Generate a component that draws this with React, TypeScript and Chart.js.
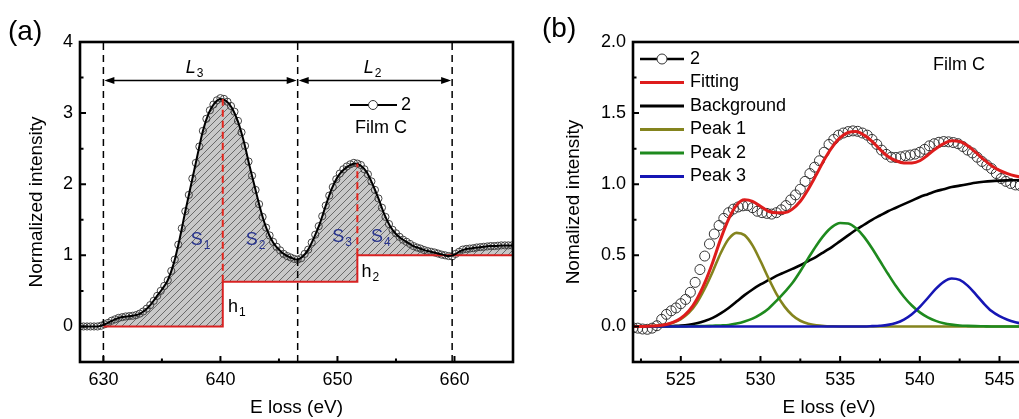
import React, { useEffect, useRef } from 'react';
import { Chart, registerables } from 'chart.js';

Chart.register(...registerables);

const FONT = '"Liberation Sans", Arial, Helvetica, sans-serif';

// ---------------- Panel (a) ----------------
const aEnergy = [
  628, 628.5, 629, 629.5, 630, 630.5, 631, 631.5, 632, 632.5, 633, 633.5, 634, 634.5, 635, 635.5,
  636, 636.5, 637, 637.5, 638, 638.5, 639, 639.5, 640, 640.5, 641, 641.5, 642, 642.5, 643, 643.5,
  644, 644.5, 645, 645.5, 646, 646.5, 647, 647.5, 648, 648.5, 649, 649.5, 650, 650.5, 651, 651.5,
  652, 652.5, 653, 653.5, 654, 654.5, 655, 655.5, 656, 656.5, 657, 657.5, 658, 658.5, 659, 659.5,
  660, 660.5, 661, 661.5, 662, 662.5, 663, 663.5, 664, 664.5, 665,
];
const aIntensity = [
  0.0, 0.0, 0.0, 0.0, 0.02, 0.06, 0.1, 0.13, 0.14, 0.15, 0.17, 0.22, 0.3, 0.41, 0.52, 0.65,
  0.88, 1.22, 1.62, 2.0, 2.38, 2.75, 3.0, 3.14, 3.2, 3.17, 3.07, 2.88, 2.6, 2.25, 1.92, 1.6,
  1.35, 1.18, 1.08, 1.01, 0.97, 0.94, 0.98, 1.08, 1.25, 1.45, 1.7, 1.93, 2.1, 2.2, 2.26, 2.29,
  2.26, 2.17, 2.0, 1.8, 1.58, 1.41, 1.3, 1.23, 1.18, 1.13, 1.1, 1.07, 1.05, 1.03, 1.01, 0.99,
  1.01, 1.06, 1.09, 1.1, 1.11, 1.12, 1.13, 1.13, 1.14, 1.14, 1.14,
];
// measured points (open circles)
const aDataEnergy = [
  628.0, 628.3, 628.6, 628.9, 629.2, 629.5, 629.8, 630.1, 630.4, 630.7, 631.0, 631.3, 631.6, 631.9,
  632.2, 632.5, 632.8, 633.1, 633.4, 633.7, 634.0, 634.3, 634.6, 634.9, 635.2, 635.5, 635.8,
  636.1, 636.4, 636.7, 637.0, 637.3, 637.6, 637.9, 638.2, 638.5, 638.8, 639.1, 639.4, 639.7,
  640.0, 640.3, 640.6, 640.9, 641.2, 641.5, 641.8, 642.1, 642.4, 642.7, 643.0, 643.3, 643.6, 643.9,
  644.2, 644.5, 644.8, 645.1, 645.4, 645.7, 646.0, 646.3, 646.6, 646.9, 647.2, 647.5, 647.8,
  648.1, 648.4, 648.7, 649.0, 649.3, 649.6, 649.9, 650.2, 650.5, 650.8, 651.1, 651.4, 651.7,
  652.0, 652.3, 652.6, 652.9, 653.2, 653.5, 653.8, 654.1, 654.4, 654.7, 655.0, 655.3, 655.6, 655.9,
  656.2, 656.5, 656.8, 657.1, 657.4, 657.7, 658.0, 658.3, 658.6, 658.9, 659.2, 659.5, 659.8,
  660.1, 660.4, 660.7, 661.0, 661.3, 661.6, 661.9, 662.2, 662.5, 662.8, 663.1, 663.4, 663.7,
  664.0, 664.3, 664.6, 664.9,
];
const aDataIntensity = [
  0.0, 0.0, 0.0, 0.0, 0.0, 0.0, 0.01, 0.03, 0.05, 0.08, 0.1, 0.12, 0.13, 0.14,
  0.145, 0.15, 0.16, 0.18, 0.21, 0.25, 0.3, 0.36, 0.43, 0.5, 0.57, 0.65, 0.78,
  0.94, 1.15, 1.38, 1.62, 1.85, 2.08, 2.3, 2.53, 2.75, 2.92, 3.04, 3.12, 3.18,
  3.21, 3.2, 3.16, 3.1, 3.02, 2.89, 2.73, 2.54, 2.32, 2.12, 1.92, 1.72, 1.54, 1.39,
  1.28, 1.19, 1.12, 1.07, 1.02, 0.99, 0.97, 0.95, 0.94, 0.96, 1.02, 1.08, 1.18,
  1.29, 1.41, 1.55, 1.7, 1.84, 1.96, 2.07, 2.15, 2.21, 2.25, 2.28, 2.3, 2.29,
  2.27, 2.21, 2.14, 2.04, 1.92, 1.8, 1.67, 1.54, 1.44, 1.36, 1.31, 1.26, 1.22, 1.19,
  1.16, 1.13, 1.11, 1.095, 1.075, 1.06, 1.05, 1.04, 1.025, 1.01, 1.0, 0.99, 0.985,
  1.02, 1.05, 1.08, 1.09, 1.095, 1.1, 1.11, 1.115, 1.12, 1.125, 1.13, 1.13, 1.135,
  1.14, 1.14, 1.14, 1.14,
];
const aStepEnergy = [630, 640.2, 640.2, 651.7, 651.7, 665];
const aStepLevel = [0, 0, 0.63, 0.63, 1.0, 1.0];
const aBoundaries = [630, 646.6, 659.8];
const aPeakEnergy = [640.2, 651.7];
const aPeakTop = [3.2, 2.29];
const aPeakBase = [0.63, 1.0];
const aXTicks = [630, 640, 650, 660];
const aXMinor = [635, 645, 655];
const aYTicks = [0, 1, 2, 3, 4];
const aYMinor = [0.5, 1.5, 2.5, 3.5];

// ---------------- Panel (b) ----------------
const bEnergy = [
  522, 522.5, 523, 523.5, 524, 524.5, 525, 525.5, 526, 526.5, 527, 527.5, 528, 528.5, 529, 529.5,
  530, 530.5, 531, 531.5, 532, 532.5, 533, 533.5, 534, 534.5, 535, 535.5, 536, 536.5, 537, 537.5,
  538, 538.5, 539, 539.5, 540, 540.5, 541, 541.5, 542, 542.5, 543, 543.5, 544, 544.5, 545, 545.5,
  546, 546.5, 547, 547.5, 548,
];
const bFitting = [
  0, 0, 0.002, 0.005, 0.012, 0.029, 0.058, 0.108, 0.19, 0.306, 0.45, 0.614, 0.755, 0.853, 0.89, 0.88,
  0.845, 0.81, 0.8, 0.8, 0.825, 0.88, 0.965, 1.066, 1.172, 1.261, 1.327, 1.364, 1.37, 1.345, 1.302, 1.245,
  1.195, 1.165, 1.15, 1.15, 1.165, 1.205, 1.25, 1.285, 1.305, 1.3, 1.27, 1.225, 1.175, 1.13, 1.097, 1.074,
  1.058, 1.047, 1.04, 1.035, 1.032,
];
const bBackground = [
  0, 0, 0, 0, 0, 0.003, 0.006, 0.012, 0.022, 0.038, 0.06, 0.092, 0.13, 0.175, 0.22, 0.26,
  0.295, 0.325, 0.355, 0.38, 0.405, 0.43, 0.46, 0.49, 0.525, 0.56, 0.6, 0.64, 0.68, 0.715, 0.75, 0.78,
  0.81, 0.835, 0.86, 0.885, 0.91, 0.93, 0.95, 0.965, 0.98, 0.99, 1.0, 1.01, 1.017, 1.022, 1.025, 1.027,
  1.028, 1.029, 1.03, 1.03, 1.03,
];
const bPeak1 = [
  0, 0, 0.002, 0.005, 0.012, 0.026, 0.052, 0.095, 0.165, 0.265, 0.385, 0.515, 0.615, 0.658, 0.642, 0.57,
  0.46, 0.34, 0.229, 0.141, 0.079, 0.04, 0.019, 0.008, 0.003, 0.001, 0, 0, 0, 0, 0, 0,
  0, 0, 0, 0, 0, 0, 0, 0, 0, 0, 0, 0, 0, 0, 0, 0,
  0, 0, 0, 0, 0,
];
const bPeak2 = [
  0, 0, 0, 0, 0, 0, 0, 0.001, 0.002, 0.003, 0.005, 0.007, 0.01, 0.02, 0.035, 0.055,
  0.085, 0.125, 0.18, 0.24, 0.305, 0.388, 0.48, 0.568, 0.644, 0.7, 0.727, 0.724, 0.69, 0.63, 0.55, 0.46,
  0.37, 0.284, 0.209, 0.147, 0.099, 0.064, 0.039, 0.023, 0.013, 0.007, 0.004, 0.002, 0.001, 0, 0, 0,
  0, 0, 0, 0, 0,
];
const bPeak3 = [
  0, 0, 0, 0, 0, 0, 0, 0, 0, 0, 0, 0, 0, 0, 0, 0,
  0, 0, 0, 0, 0, 0, 0, 0, 0, 0, 0, 0, 0, 0, 0.002, 0.005,
  0.011, 0.024, 0.048, 0.086, 0.138, 0.2, 0.264, 0.314, 0.337, 0.327, 0.287, 0.227, 0.163, 0.108, 0.072, 0.047,
  0.03, 0.018, 0.01, 0.005, 0.002,
];
const bDataEnergy = [
  522.0, 522.3, 522.6, 522.9, 523.2, 523.5, 523.8, 524.1, 524.4, 524.7, 525.0, 525.3, 525.6, 525.9,
  526.2, 526.5, 526.8, 527.1, 527.4, 527.7, 528.0, 528.3, 528.6, 528.9, 529.2, 529.5, 529.8,
  530.1, 530.4, 530.7, 531.0, 531.3, 531.6, 531.9, 532.2, 532.5, 532.8, 533.1, 533.4, 533.7,
  534.0, 534.3, 534.6, 534.9, 535.2, 535.5, 535.8, 536.1, 536.4, 536.7, 537.0, 537.3, 537.6, 537.9,
  538.2, 538.5, 538.8, 539.1, 539.4, 539.7, 540.0, 540.3, 540.6, 540.9, 541.2, 541.5, 541.8,
  542.1, 542.4, 542.7, 543.0, 543.3, 543.6, 543.9, 544.2, 544.5, 544.8, 545.1, 545.4, 545.7,
  546.0, 546.3, 546.6, 546.9,
];
const bDataIntensity = [
  -0.01, -0.012, -0.018, -0.02, -0.012, 0.005, 0.05, 0.085, 0.11, 0.13, 0.16, 0.19, 0.24, 0.31,
  0.4, 0.495, 0.58, 0.65, 0.71, 0.76, 0.8, 0.825, 0.84, 0.848, 0.85, 0.835, 0.81,
  0.8, 0.795, 0.79, 0.8, 0.82, 0.85, 0.89, 0.925, 0.965, 1.02, 1.075, 1.12, 1.165,
  1.225, 1.28, 1.315, 1.345, 1.36, 1.37, 1.375, 1.372, 1.36, 1.345, 1.315, 1.28, 1.24, 1.21,
  1.19, 1.188, 1.193, 1.2, 1.205, 1.212, 1.225, 1.245, 1.27, 1.285, 1.295, 1.3, 1.298,
  1.293, 1.285, 1.265, 1.24, 1.22, 1.19, 1.16, 1.135, 1.11, 1.075, 1.04, 1.02, 1.005,
  0.995, 0.99, 0.99, 0.99,
];
const bXTicks = [525, 530, 535, 540, 545];
const bXMinor = [522.5, 527.5, 532.5, 537.5, 542.5];
const bYTicks = [0, 0.5, 1.0, 1.5, 2.0];
const bYMinor = [0.25, 0.75, 1.25, 1.75];
const bLegendLabels = ['2', 'Fitting', 'Background', 'Peak 1', 'Peak 2', 'Peak 3'];

const RED = '#de1c1c';
const OLIVE = '#84841e';
const GREEN = '#1e8a1e';
const BLUE = '#1616b4';
const SBLUE = '#28348e';

const pts = (xs: number[], ys: number[]) => xs.map((x, i) => ({ x, y: ys[i] }));

function makeHatch(): any {
  const c = document.createElement('canvas');
  c.width = 7;
  c.height = 7;
  const g = c.getContext('2d');
  if (!g) return '#c8c8c8';
  g.fillStyle = '#c8c8c8';
  g.fillRect(0, 0, 7, 7);
  g.strokeStyle = '#5e5e5e';
  g.lineWidth = 0.9;
  g.beginPath();
  g.moveTo(0, 7); g.lineTo(7, 0);
  g.moveTo(-1, 1); g.lineTo(1, -1);
  g.moveTo(6, 8); g.lineTo(8, 6);
  g.stroke();
  return g.createPattern(c, 'repeat') || '#c8c8c8';
}

function drawText(ctx: CanvasRenderingContext2D, text: string, x: number, y: number, opts: any = {}) {
  const size = opts.size ?? 18;
  const main = `${opts.italic ? 'italic ' : ''}${size}px ${FONT}`;
  const subF = `${Math.round(size * 0.68)}px ${FONT}`;
  ctx.save();
  ctx.fillStyle = opts.color ?? '#000';
  ctx.textBaseline = 'middle';
  ctx.textAlign = 'left';
  ctx.font = main;
  const w = ctx.measureText(text).width;
  let sw = 0;
  if (opts.sub) {
    ctx.font = subF;
    sw = ctx.measureText(opts.sub).width + 1;
  }
  const x0 = opts.center ? x - (w + sw) / 2 : x;
  ctx.font = main;
  ctx.fillText(text, x0, y);
  if (opts.sub) {
    ctx.font = subF;
    ctx.fillText(opts.sub, x0 + w + 1, y + size * 0.32);
  }
  ctx.restore();
}

function drawFrame(chart: any, xMajor: number[], xMinor: number[], yMajor: number[], yMinor: number[]) {
  const { ctx, chartArea, scales } = chart;
  const { left, right, top, bottom } = chartArea;
  ctx.save();
  ctx.strokeStyle = '#000';
  ctx.lineWidth = 2;
  ctx.beginPath();
  for (const v of xMajor) { const p = scales.x.getPixelForValue(v); ctx.moveTo(p, bottom); ctx.lineTo(p, bottom - 6); }
  for (const v of xMinor) { const p = scales.x.getPixelForValue(v); ctx.moveTo(p, bottom); ctx.lineTo(p, bottom - 3.5); }
  for (const v of yMajor) { const p = scales.y.getPixelForValue(v); ctx.moveTo(left, p); ctx.lineTo(left + 6, p); }
  for (const v of yMinor) { const p = scales.y.getPixelForValue(v); ctx.moveTo(left, p); ctx.lineTo(left + 3.5, p); }
  ctx.stroke();
  ctx.lineWidth = 2.6;
  ctx.strokeRect(left, top, right - left, bottom - top);
  ctx.restore();
}

function arrowHead(ctx: CanvasRenderingContext2D, x: number, y: number, dir: number) {
  ctx.beginPath();
  ctx.moveTo(x, y);
  ctx.lineTo(x + dir * 10, y - 3.5);
  ctx.lineTo(x + dir * 10, y + 3.5);
  ctx.closePath();
  ctx.fill();
}

function drawArrow(ctx: CanvasRenderingContext2D, x1: number, x2: number, y: number) {
  ctx.save();
  ctx.strokeStyle = '#000';
  ctx.fillStyle = '#000';
  ctx.lineWidth = 1.5;
  ctx.beginPath();
  ctx.moveTo(x1 + 4, y);
  ctx.lineTo(x2 - 4, y);
  ctx.stroke();
  arrowHead(ctx, x1 + 1, y, 1);
  arrowHead(ctx, x2 - 1, y, -1);
  ctx.restore();
}

function scaleX(min: number, max: number, ticks: number[], decimals: number, title: string) {
  return {
    type: 'linear',
    min,
    max,
    grid: { display: false, drawTicks: false },
    border: { display: false },
    ticks: {
      color: '#000',
      font: { family: FONT, size: 18 },
      padding: 7,
      autoSkip: false,
      maxRotation: 0,
      callback: (v: any) => Number(v).toFixed(decimals),
    },
    afterBuildTicks: (s: any) => { s.ticks = ticks.map((v) => ({ value: v })); },
    afterFit: (s: any) => { s.height = 57; },
    title: { display: true, text: title, color: '#000', font: { family: FONT, size: 19 }, padding: { top: 0, bottom: 0 } },
  };
}

function scaleY(min: number, max: number, ticks: number[], decimals: number, title: string, width: number, titlePad: number) {
  return {
    type: 'linear',
    min,
    max,
    grid: { display: false, drawTicks: false },
    border: { display: false },
    ticks: {
      color: '#000',
      font: { family: FONT, size: 18 },
      padding: 7,
      autoSkip: false,
      callback: (v: any) => Number(v).toFixed(decimals),
    },
    afterBuildTicks: (s: any) => { s.ticks = ticks.map((v) => ({ value: v })); },
    afterFit: (s: any) => { s.width = width; },
    title: { display: true, text: title, color: '#000', font: { family: FONT, size: 19 }, padding: { top: titlePad, bottom: 0 } },
  };
}

export default function App() {
  const refA = useRef<HTMLCanvasElement>(null);
  const refB = useRef<HTMLCanvasElement>(null);

  useEffect(() => {
    const hatch = makeHatch();

    const vLines: any[] = aBoundaries.map((e) => ({
      data: [{ x: e, y: -0.5 }, { x: e, y: 4 }],
      borderColor: '#000',
      borderWidth: 1.5,
      borderDash: [7, 5],
      pointRadius: 0,
      tension: 0,
      fill: false,
      order: 1,
    }));
    const peakLines: any[] = aPeakEnergy.map((e, i) => ({
      data: [{ x: e, y: aPeakBase[i] }, { x: e, y: aPeakTop[i] }],
      borderColor: '#e3261e',
      borderWidth: 2,
      borderDash: [7, 4],
      pointRadius: 0,
      tension: 0,
      fill: false,
      order: 0,
    }));

    const chartA = new Chart(refA.current as HTMLCanvasElement, {
      type: 'line',
      data: {
        datasets: [
          {
            data: pts(aEnergy, aIntensity),
            borderColor: '#000',
            borderWidth: 2,
            pointRadius: 0,
            cubicInterpolationMode: 'monotone',
            fill: { target: 1 },
            backgroundColor: hatch,
            order: 2,
          },
          {
            data: pts(aStepEnergy, aStepLevel),
            borderColor: '#d82222',
            borderWidth: 2,
            pointRadius: 0,
            tension: 0,
            fill: false,
            order: 3,
          },
          {
            data: pts(aDataEnergy, aDataIntensity),
            showLine: false,
            pointRadius: 3.6,
            pointBorderWidth: 1,
            pointBorderColor: '#444',
            pointBackgroundColor: 'rgba(255,255,255,0)',
            fill: false,
            order: 5,
          },
          ...vLines,
          ...peakLines,
        ] as any,
      },
      options: {
        responsive: false,
        animation: false,
        devicePixelRatio: 1,
        layout: { padding: { left: 0, top: 42, right: 12, bottom: 0 } },
        plugins: {
          legend: { display: false },
          tooltip: { enabled: false },
          filler: { drawTime: 'beforeDatasetsDraw' },
        },
        scales: {
          x: scaleX(628, 665, aXTicks, 0, 'E loss (eV)'),
          y: scaleY(-0.5, 4, aYTicks, 0, 'Normalized intensity', 80, 25),
        } as any,
      },
      plugins: [
        {
          id: 'decorA',
          afterDraw(chart: any) {
            const { ctx, scales } = chart;
            const X = (v: number) => scales.x.getPixelForValue(v);
            const Y = (v: number) => scales.y.getPixelForValue(v);
            drawFrame(chart, aXTicks, aXMinor, aYTicks, aYMinor);
            const ay = Y(3.46);
            drawArrow(ctx, X(aBoundaries[0]), X(aBoundaries[1]), ay);
            drawArrow(ctx, X(aBoundaries[1]), X(aBoundaries[2]), ay);
            drawText(ctx, 'L', X(637.8), Y(3.64), { italic: true, sub: '3', center: true });
            drawText(ctx, 'L', X(653.0), Y(3.64), { italic: true, sub: '2', center: true });
            drawText(ctx, 'S', X(638.3), Y(1.21), { sub: '1', center: true, color: SBLUE });
            drawText(ctx, 'S', X(643.0), Y(1.21), { sub: '2', center: true, color: SBLUE });
            drawText(ctx, 'S', X(650.4), Y(1.26), { sub: '3', center: true, color: SBLUE });
            drawText(ctx, 'S', X(653.7), Y(1.26), { sub: '4', center: true, color: SBLUE });
            drawText(ctx, 'h', X(641.4), Y(0.27), { sub: '1', center: true });
            drawText(ctx, 'h', X(652.8), Y(0.765), { sub: '2', center: true });
            // legend
            ctx.save();
            ctx.strokeStyle = '#000';
            ctx.lineWidth = 2.2;
            ctx.beginPath();
            ctx.moveTo(350, 105);
            ctx.lineTo(397, 105);
            ctx.stroke();
            ctx.fillStyle = '#fff';
            ctx.lineWidth = 1;
            ctx.strokeStyle = '#333';
            ctx.beginPath();
            ctx.arc(373, 105, 4.5, 0, Math.PI * 2);
            ctx.fill();
            ctx.stroke();
            ctx.restore();
            drawText(ctx, '2', 401, 105, {});
            drawText(ctx, 'Film C', 355, 128, {});
            drawText(ctx, '(a)', 8, 32, { size: 28 });
          },
        },
      ],
    } as any);

    const bLineColors = ['#000', RED, '#000', OLIVE, GREEN, BLUE];

    const chartB = new Chart(refB.current as HTMLCanvasElement, {
      type: 'line',
      data: {
        datasets: [
          { data: pts(bEnergy, bFitting), borderColor: RED, borderWidth: 3, pointRadius: 0, cubicInterpolationMode: 'monotone', fill: false, order: 1 },
          { data: pts(bEnergy, bPeak3), borderColor: BLUE, borderWidth: 2.6, pointRadius: 0, cubicInterpolationMode: 'monotone', fill: false, order: 2 },
          { data: pts(bEnergy, bPeak2), borderColor: GREEN, borderWidth: 2.6, pointRadius: 0, cubicInterpolationMode: 'monotone', fill: false, order: 3 },
          { data: pts(bEnergy, bPeak1), borderColor: OLIVE, borderWidth: 2.6, pointRadius: 0, cubicInterpolationMode: 'monotone', fill: false, order: 4 },
          { data: pts(bEnergy, bBackground), borderColor: '#000', borderWidth: 2.6, pointRadius: 0, cubicInterpolationMode: 'monotone', fill: false, order: 5 },
          {
            data: pts(bDataEnergy, bDataIntensity),
            showLine: false,
            pointRadius: 5,
            pointBorderWidth: 1,
            pointBorderColor: '#333',
            pointBackgroundColor: 'rgba(255,255,255,0)',
            fill: false,
            order: 6,
          },
        ] as any,
      },
      options: {
        responsive: false,
        animation: false,
        devicePixelRatio: 1,
        layout: { padding: { left: 0, top: 42, right: 2, bottom: 0 } },
        plugins: {
          legend: { display: false },
          tooltip: { enabled: false },
        },
        scales: {
          x: scaleX(522, 546.6, bXTicks, 0, 'E loss (eV)'),
          y: scaleY(-0.25, 2.0, bYTicks, 1, 'Nomalized intensity', 108, 37),
        } as any,
      },
      plugins: [
        {
          id: 'decorB',
          afterDraw(chart: any) {
            const { ctx } = chart;
            drawFrame(chart, bXTicks, bXMinor, bYTicks, bYMinor);
            const rowY = [59, 82.5, 106, 129.5, 153, 176.5];
            bLegendLabels.forEach((lab, i) => {
              const y = rowY[i];
              ctx.save();
              ctx.strokeStyle = bLineColors[i];
              ctx.lineWidth = i === 0 ? 2.4 : 3;
              ctx.beginPath();
              ctx.moveTo(115, y);
              ctx.lineTo(159, y);
              ctx.stroke();
              if (i === 0) {
                ctx.fillStyle = '#fff';
                ctx.strokeStyle = '#333';
                ctx.lineWidth = 1;
                ctx.beginPath();
                ctx.arc(137, y, 5, 0, Math.PI * 2);
                ctx.fill();
                ctx.stroke();
              }
              ctx.restore();
              drawText(ctx, lab, 165, y, {});
            });
            drawText(ctx, 'Film C', 408, 65, {});
            drawText(ctx, '(b)', 17, 29, { size: 28 });
          },
        },
      ],
    } as any);

    return () => {
      chartA.destroy();
      chartB.destroy();
    };
  }, []);

  return (
    <div style={{ position: 'fixed', left: 0, top: 0, width: 1019, height: 419, overflow: 'hidden', background: '#fff' }}>
      <canvas ref={refA} width={525} height={419} style={{ position: 'absolute', left: 0, top: 0 }} />
      <canvas ref={refB} width={506} height={419} style={{ position: 'absolute', left: 525, top: 0 }} />
    </div>
  );
}
